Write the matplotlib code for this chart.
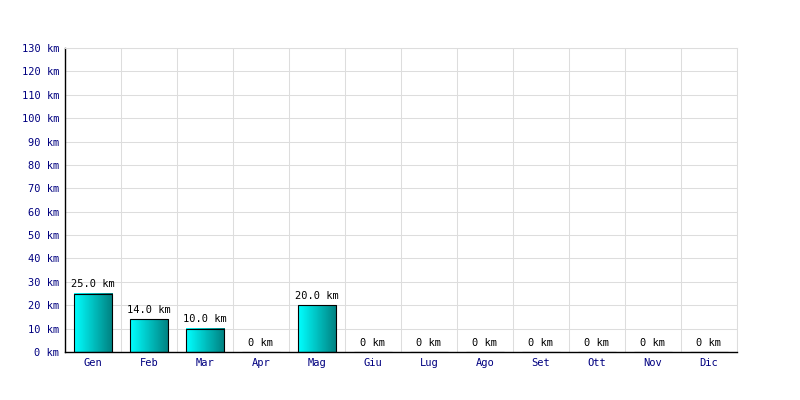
import numpy as np
import matplotlib.pyplot as plt
from matplotlib.colors import LinearSegmentedColormap

# Dati mensili (km)
mesi = ["Gen", "Feb", "Mar", "Apr", "Mag", "Giu", "Lug", "Ago", "Set", "Ott", "Nov", "Dic"]
km = [25.0, 14.0, 10.0, 0, 20.0, 0, 0, 0, 0, 0, 0, 0]
etichette = ["25.0 km", "14.0 km", "10.0 km", "0 km", "20.0 km", "0 km",
             "0 km", "0 km", "0 km", "0 km", "0 km", "0 km"]
yticks = list(range(0, 131, 10))

font = "DejaVu Sans Mono"
navy = "#000080"

fig = plt.figure(figsize=(8, 4), dpi=100)
ax = fig.add_axes([0.081, 0.12, 0.84, 0.76])

x = np.arange(len(mesi))
larghezza = 0.68
grad = LinearSegmentedColormap.from_list("ciano", ["#00ffff", "#008080"])
img = np.linspace(0, 1, 64).reshape(1, -1)

bars = ax.bar(x, km, width=larghezza, color="none", edgecolor="black", linewidth=0.8, zorder=3)
for b in bars:
    h = b.get_height()
    if h > 0:
        x0 = b.get_x()
        ax.imshow(img, cmap=grad, aspect="auto", zorder=2.5,
                  extent=[x0, x0 + b.get_width(), 0, h])

for xi, v, t in zip(x, km, etichette):
    ax.text(xi, v + 1.9, t, ha="center", va="bottom", fontsize=7.5,
            family=font, color="black", zorder=4)

ax.set_xlim(-0.5, len(mesi) - 0.5)
ax.set_ylim(0, 130)
ax.set_yticks(yticks)
ax.set_yticklabels([f"{v} km" for v in yticks], family=font, fontsize=7.5, color=navy)
ax.set_xticks(x)
ax.set_xticklabels(mesi, family=font, fontsize=7.5, color=navy)
ax.set_xticks(np.arange(-0.5, len(mesi), 1), minor=True)
ax.tick_params(axis="both", which="both", length=0, pad=4)

ax.grid(True, axis="y", which="major", color="#dddddd", linewidth=0.75, zorder=0)
ax.grid(True, axis="x", which="minor", color="#dddddd", linewidth=0.75, zorder=0)
ax.set_axisbelow(True)

for s in ["top", "right"]:
    ax.spines[s].set_color("#dddddd")
    ax.spines[s].set_linewidth(0.75)
ax.spines["left"].set_color("black")
ax.spines["bottom"].set_color("black")
ax.spines["left"].set_linewidth(1)
ax.spines["bottom"].set_linewidth(1)

fig.savefig("out.png", dpi=100)
